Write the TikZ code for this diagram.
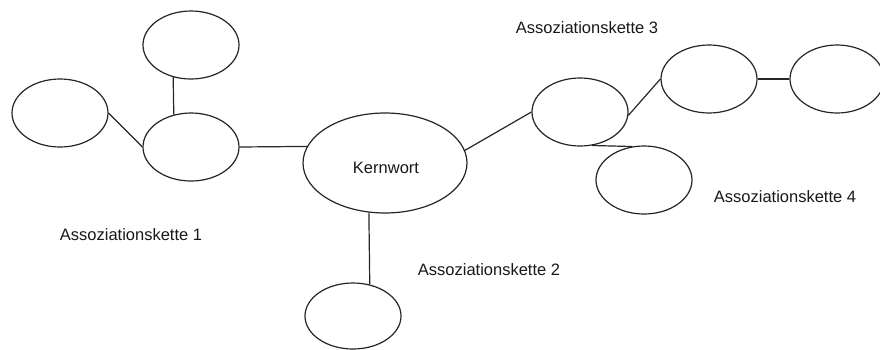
\documentclass[tikz,border=0pt]{standalone}
\usepackage{fontspec}
\setmainfont{Liberation Sans}
\usetikzlibrary{shapes.geometric}
\begin{document}
\begin{tikzpicture}[x=1pt,y=-1pt,
  bubble/.style={ellipse,draw=black!85,line width=1.2pt,inner sep=0pt,
    minimum width=96pt,minimum height=68pt},
  link/.style={draw=black!85,line width=1.2pt},
  label/.style={inner sep=0pt,text=black!90,font=\fontsize{16.5}{20}\selectfont}]
\useasboundingbox (0,0) rectangle (880,349);
\fill[white] (0,0) rectangle (880,349);

% chain 1
\node[bubble] (top)  at (191,45)  {};
\node[bubble] (left) at (60,113)  {};
\node[bubble] (mid)  at (191,147) {};

% core word
\node[bubble,minimum width=164pt,minimum height=100pt] (kern) at (385,163) {};
\node[label] (kerntext) at (386,168) {Kernwort};

% chain 2
\node[bubble,minimum height=66pt] (bot) at (353,316) {};

% chains 3 and 4
\node[bubble] (c1) at (580,112) {};
\node[bubble] (c2) at (709,79)  {};
\node[bubble,minimum width=94pt] (c3) at (837,79)  {};
\node[bubble] (c4) at (644,180) {};

% connectors
\draw[link] (top.241.9) -- (mid.118.1);
\draw[link] (left.east) -- (mid.west);
\draw[link] (mid.east) -- (kern.168);
\draw[link] (kern.252) -- (bot.62.7);
\draw[link] (kern.9) -- (c1.west);
\draw[link] (c1.-4) -- (c2.west);
\draw[link] (c2.east) -- (c3.west);
\draw[link] (c1.-70) -- (c4.110);

% chain labels
\node[label] (l1) at (131,235) {Assoziationskette 1};
\node[label] (l2) at (489,270) {Assoziationskette 2};
\node[label] (l3) at (587,28)  {Assoziationskette 3};
\node[label] (l4) at (785,197) {Assoziationskette 4};
\end{tikzpicture}
\end{document}
